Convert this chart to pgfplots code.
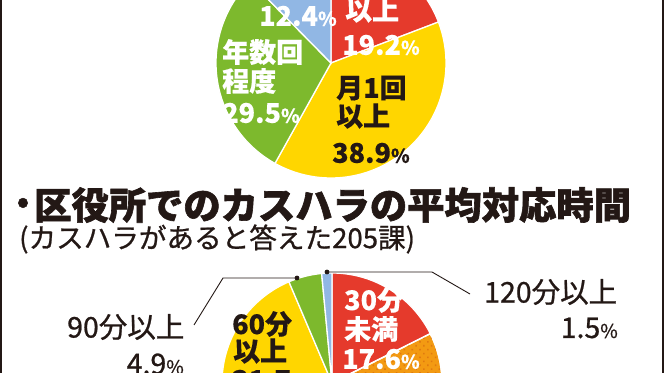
\documentclass[border=0pt]{standalone}
\usepackage{fontspec}
\usepackage{pgfplots}
\pgfplotsset{compat=1.18}
\usetikzlibrary{patterns.meta}
\setmainfont{Noto Sans CJK JP}
\newfontfamily\med{Noto Sans CJK JP}[BoldFeatures={FakeBold=0.3}]
\newfontfamily\reg{Noto Sans CJK JP}[FakeBold=0.8]
\newfontfamily\heavy{Noto Sans CJK JP}[BoldFeatures={FakeBold=1.6}]
\definecolor{cred}{HTML}{E53A2C}
\definecolor{cyel}{HTML}{FFD600}
\definecolor{cgrn}{HTML}{7DB92D}
\definecolor{cblu}{HTML}{91B7E4}
\definecolor{corg}{HTML}{F39A12}
\definecolor{cdot}{HTML}{E07A10}
\definecolor{ink}{HTML}{231815}
\newcommand{\pc}{{\fontsize{19}{19}\selectfont\%}}
% cx cy r start(%) size(%) style
\newcommand{\slice}[6]{%
  \addplot[#6, domain={90-3.6*(#4+#5)}:{90-3.6*(#4)}, samples=80, variable=\t]
    ({#1+#3*cos(\t)},{#2+#3*sin(\t)}) -- (axis cs:#1,#2) -- cycle;}
\tikzset{wl/.style={draw=white, line width=1.3pt}}
\begin{document}
\begin{tikzpicture}[x=1pt,y=1pt]
\begin{axis}[at={(0,0)}, anchor=south west, scale only axis,
  width=665pt, height=373pt, xmin=0, xmax=665, ymin=0, ymax=373,
  hide axis, clip=true]
% ---- top pie (center 331,310; r 115)
\slice{331}{310}{115}{0}{19.2}{fill=cred, wl}
\slice{331}{310}{115}{19.2}{38.9}{fill=cyel, wl}
\slice{331}{310}{115}{58.1}{29.5}{fill=cgrn, wl}
\slice{331}{310}{115}{87.6}{12.4}{fill=cblu, wl}
% ---- bottom pie: average handling time (center 332,-10; r 110)
\slice{332}{-10}{110}{0}{17.6}{fill=cred, wl}
\slice{332}{-10}{110}{17.6}{44.3}{fill=corg, wl, postaction={pattern={Dots[radius=1.1pt,distance=5.5pt,angle=45]}, pattern color=cdot}}
\slice{332}{-10}{110}{61.9}{31.7}{fill=cyel, wl}
\slice{332}{-10}{110}{93.6}{4.9}{fill=cgrn, wl}
\slice{332}{-10}{110}{98.5}{1.5}{fill=cblu, wl}
% ---- top pie labels
\begin{scope}[every node/.style={anchor=west, inner sep=0pt, font=\med\bfseries\fontsize{27}{27}\selectfont}]
\node[text=white] at (axis cs:259,357) {12.4\pc};
\node[text=white] at (axis cs:345,363) {以上};
\node[text=white] at (axis cs:342,328) {19.2\pc};
\node[text=white] at (axis cs:222,321) {年数回};
\node[text=white] at (axis cs:222,292) {程度};
\node[text=white] at (axis cs:222,260) {29.5\pc};
\node[text=ink] at (axis cs:336,285) {月1回};
\node[text=ink] at (axis cs:336,257) {以上};
\node[text=ink] at (axis cs:332,220) {38.9\pc};
% ---- bottom pie labels
\node[text=white] at (axis cs:344,73) {30分};
\node[text=white] at (axis cs:344,44) {未満};
\node[text=white] at (axis cs:342,14) {17.6\pc};
\node[text=ink] at (axis cs:232,49) {60分};
\node[text=ink] at (axis cs:233,22) {以上};
\node[text=ink] at (axis cs:232,-7) {31.7\pc};
\end{scope}
\begin{scope}[every node/.style={anchor=west, inner sep=0pt, text=ink, font=\reg\fontsize{28.5}{28.5}\selectfont}]
\node at (axis cs:67,46) {90分以上};
\node[anchor=east] at (axis cs:184,9) {4.9\pc};
\node at (axis cs:484,81) {120分以上};
\node[anchor=east] at (axis cs:618,45) {1.5\pc};
\end{scope}
% ---- leader lines
\draw[ink, line width=0.9pt] (axis cs:194,48) -- (axis cs:223,95) -- (axis cs:297,95);
\fill[ink] (axis cs:297,95) circle (2.4pt);
\draw[ink, line width=0.9pt] (axis cs:327,101) -- (axis cs:432,101) -- (axis cs:470,79);
\fill[ink] (axis cs:327,101) circle (2.4pt);
% ---- titles
\node[anchor=center, inner sep=0pt, text=ink, font=\heavy\fontsize{30}{30}\selectfont\bfseries] at (axis cs:23,168) {•};
\node[anchor=west, inner sep=0pt, text=ink, font=\heavy\fontsize{37.3}{37.3}\selectfont\bfseries] at (axis cs:34,168) {区役所でのカスハラの平均対応時間};
\node[anchor=west, inner sep=0pt, text=ink, font=\reg\fontsize{27.6}{27.6}\selectfont] at (axis cs:19,134) {(カスハラがあると答えた205課)};
% ---- frame
\draw[ink, line width=2pt] (axis cs:1,0) -- (axis cs:1,373);
\draw[ink, line width=2pt] (axis cs:663,0) -- (axis cs:663,373);
\end{axis}
\pgfresetboundingbox
\path[use as bounding box] (0,0) rectangle (665,373);
\end{tikzpicture}
\end{document}
